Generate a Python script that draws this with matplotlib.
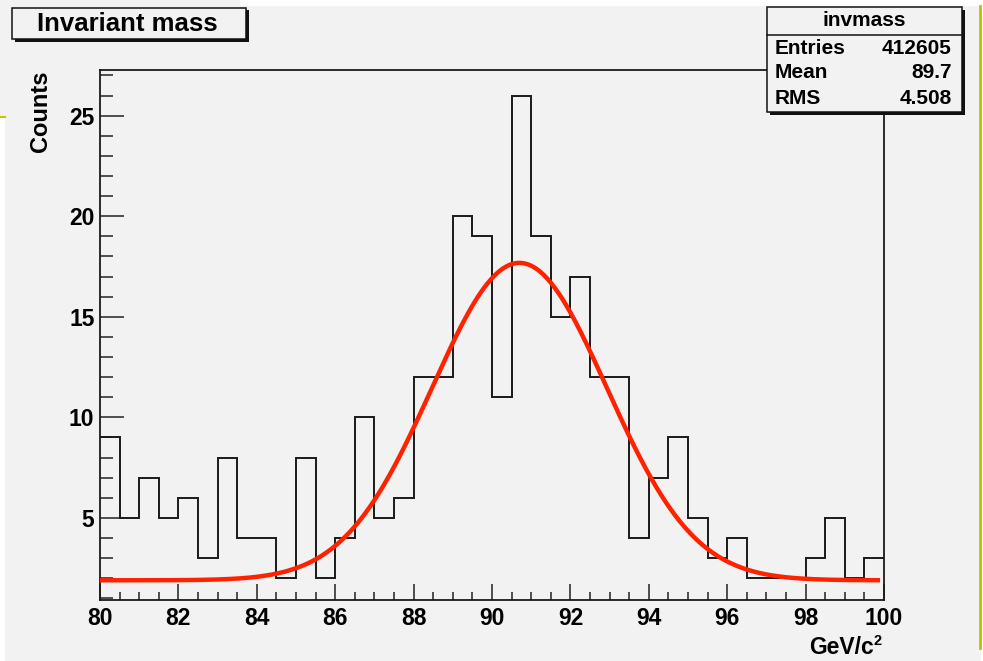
import numpy as np
import matplotlib
matplotlib.use("Agg")
import matplotlib.pyplot as plt
from matplotlib.patches import Rectangle
from matplotlib.ticker import MultipleLocator

# ---- data ----
bin_edges_start = 80.0
bin_width = 0.5
counts = [9, 5, 7, 5, 6, 3, 8, 4, 4, 2,
          8, 2, 4, 10, 5, 6, 12, 12, 20, 19,
          11, 26, 19, 15, 17, 12, 12, 4, 7, 9,
          5, 3, 4, 2, 2, 2, 3, 5, 2, 3]
# fitted gaussian + constant (as drawn by the fit)
fit_const = 1.9
fit_amp = 15.78
fit_mean = 90.7
fit_sigma = 2.23
fit_xmin, fit_xmax = 80.0, 99.9

title_text = "Invariant mass"
stats_name = "invmass"
stats_labels = ["Entries", "Mean", "RMS"]
stats_values = ["412605", "89.7", "4.508"]
xlabel = "GeV/c"
xlabel_sup = "2"
ylabel = "Counts"

W, H = 983, 661
BG = "#f2f2f2"
plt.rcParams["font.family"] = ["Liberation Sans", "DejaVu Sans"]
plt.rcParams["font.weight"] = "bold"

fig = plt.figure(figsize=(W / 100, H / 100), dpi=100, facecolor=BG)

def fx(x):
    return x / W

def fy(y):
    return 1 - y / H

# axes: left 100, right 884, top 70, bottom 600 px
ax = fig.add_axes([fx(100), fy(600), (884 - 100) / W, (600 - 70) / H])
ax.set_facecolor(BG)

edges = bin_edges_start + bin_width * np.arange(len(counts) + 1)
ax.stairs(counts, edges, baseline=None, color="#1a1a1a", lw=1.4, zorder=2)

xf = np.linspace(fit_xmin, fit_xmax, 400)
yf = fit_const + fit_amp * np.exp(-0.5 * ((xf - fit_mean) / fit_sigma) ** 2)
ax.plot(xf, yf, color="#ff2200", lw=3.2, zorder=3, solid_capstyle="butt")

ax.set_xlim(80, 100)
ax.set_ylim(0.92, 27.27)
ax.xaxis.set_major_locator(MultipleLocator(2))
ax.xaxis.set_minor_locator(MultipleLocator(0.5))
ax.yaxis.set_major_locator(MultipleLocator(5))
ax.yaxis.set_minor_locator(MultipleLocator(1))
ax.tick_params(axis="x", which="major", direction="in", length=11.5, width=1.1,
               color="#222222", labelsize=16.5, pad=5, top=False)
ax.tick_params(axis="x", which="minor", direction="in", length=5.5, width=1.1,
               color="#222222", top=False)
ax.tick_params(axis="y", which="major", direction="in", length=17, width=1.1,
               color="#222222", labelsize=16.5, pad=4, right=False)
ax.tick_params(axis="y", which="minor", direction="in", length=9, width=1.1,
               color="#222222", right=False)
for lab in ax.get_xticklabels() + ax.get_yticklabels():
    lab.set_fontweight("bold")
for s in ax.spines.values():
    s.set_linewidth(1.3)
    s.set_color("#1a1a1a")

# axis titles
fig.text(fx(40), fy(70), ylabel, rotation=90, ha="center", va="top",
         fontsize=17, fontweight="bold")
fig.text(fx(874), fy(648), xlabel, ha="right", va="center",
         fontsize=16.5, fontweight="bold")
fig.text(fx(873.5), fy(641), xlabel_sup, ha="left", va="center",
         fontsize=10.5, fontweight="bold")

# title box with shadow
def shadow_box(x0, y0, x1, y1, off=2.5):
    fig.add_artist(Rectangle((fx(x0 + off), fy(y1 + off)), (x1 - x0) / W, (y1 - y0) / H,
                             transform=fig.transFigure, facecolor="#111111",
                             edgecolor="none", zorder=10))
    fig.add_artist(Rectangle((fx(x0), fy(y1)), (x1 - x0) / W, (y1 - y0) / H,
                             transform=fig.transFigure, facecolor=BG,
                             edgecolor="#111111", lw=1.1, zorder=11))

shadow_box(12, 8, 246, 39)
fig.text(fx(127), fy(24), title_text, ha="center", va="center",
         fontsize=18.5, fontweight="bold", zorder=12)

# stats box
sx0, sy0, sx1, sy1 = 767, 7, 962, 112
shadow_box(sx0, sy0, sx1, sy1)
fig.add_artist(plt.Line2D([fx(sx0), fx(sx1)], [fy(35), fy(35)], transform=fig.transFigure,
                          color="#111111", lw=1.1, zorder=12))
fig.text(fx((sx0 + sx1) / 2), fy(21), stats_name, ha="center", va="center",
         fontsize=15, fontweight="bold", zorder=12)
row_y = [48, 73, 99]
for lab, val, ry in zip(stats_labels, stats_values, row_y):
    fig.text(fx(775), fy(ry), lab, ha="left", va="center", fontsize=15,
             fontweight="bold", zorder=12)
    fig.text(fx(952), fy(ry), val, ha="right", va="center", fontsize=15,
             fontweight="bold", zorder=12)

# screenshot edge artifacts
fig.add_artist(Rectangle((fx(240), fy(6)), (W - 240) / W, 6 / H, transform=fig.transFigure,
                         facecolor="white", edgecolor="none", zorder=1))
fig.add_artist(Rectangle((fx(0), fy(H)), 5 / W, (H - 117) / H, transform=fig.transFigure,
                         facecolor="white", edgecolor="none", zorder=1))
fig.add_artist(plt.Line2D([fx(0), fx(5)], [fy(117), fy(117)], transform=fig.transFigure,
                          color="#c8c800", lw=1.5, zorder=2))
fig.add_artist(Rectangle((fx(981), fy(H)), 2 / W, 1, transform=fig.transFigure,
                         facecolor="white", edgecolor="none", zorder=1))
fig.add_artist(plt.Line2D([fx(979.5), fx(979.5)], [fy(6), fy(648)], transform=fig.transFigure,
                          color="#c0c000", lw=2.0, zorder=2))

fig.savefig("out.png", dpi=100, facecolor=BG)
